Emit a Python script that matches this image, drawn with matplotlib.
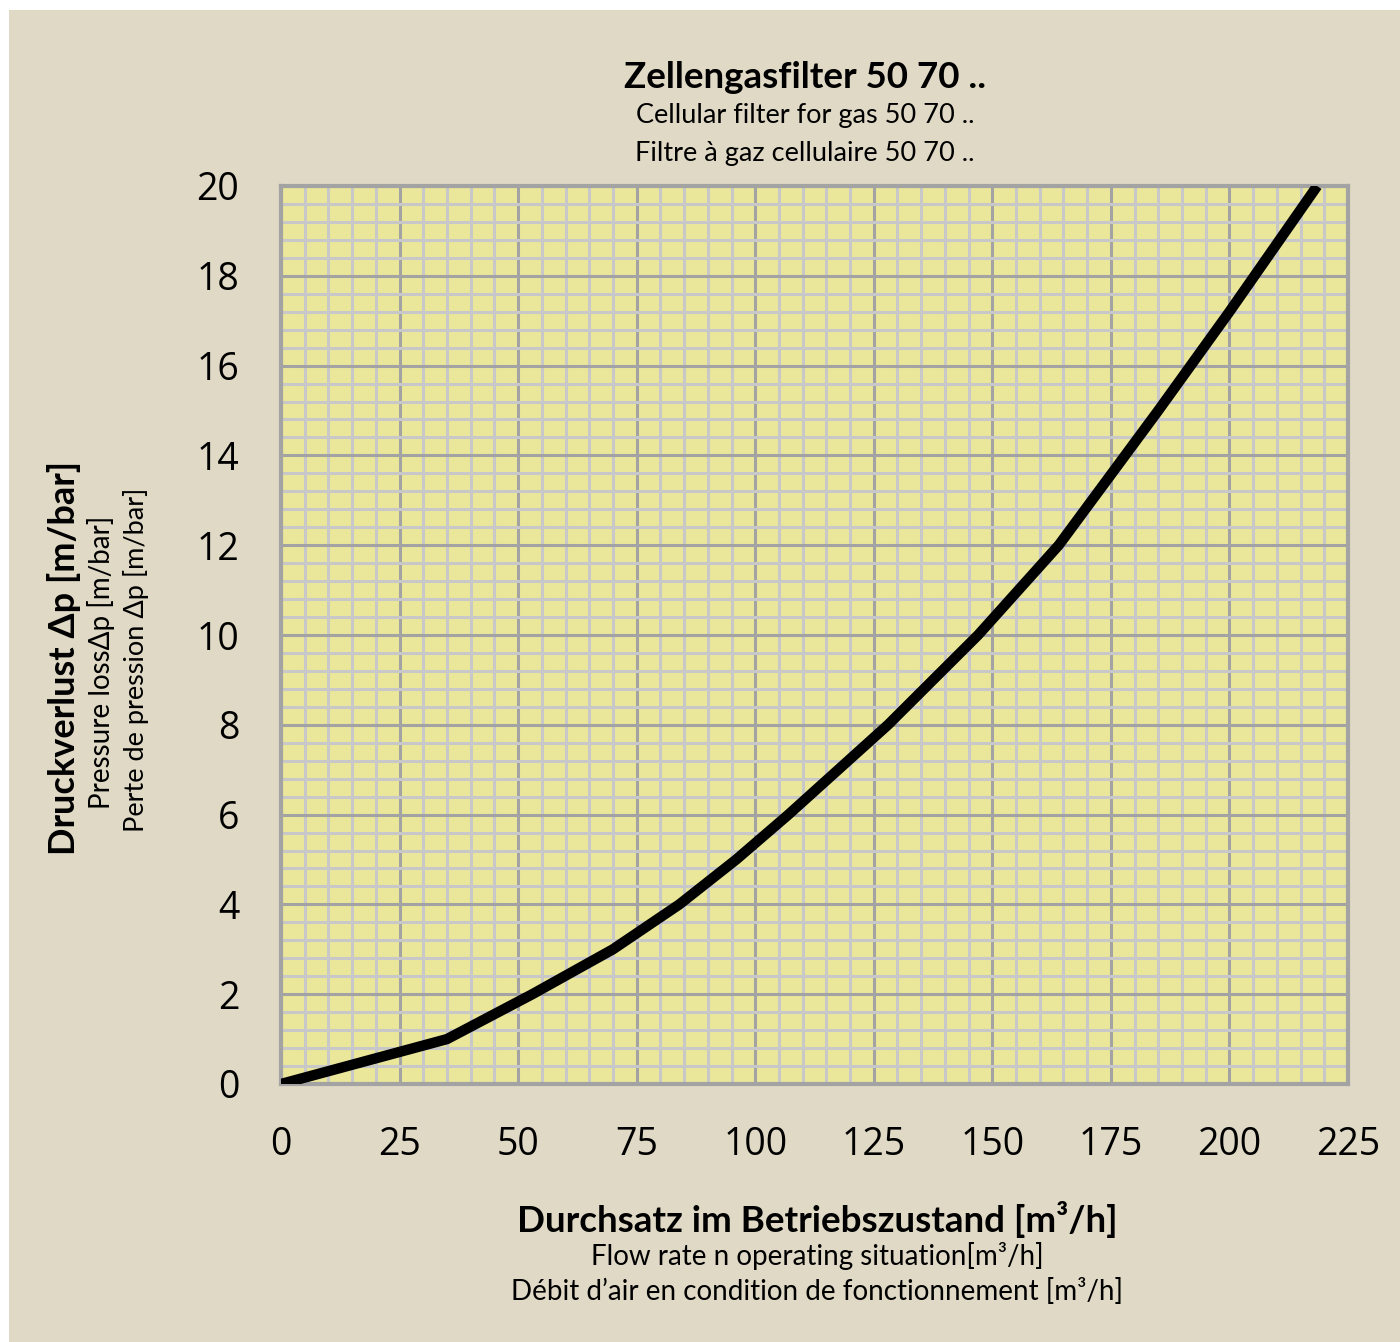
import numpy as np
import matplotlib.pyplot as plt
from matplotlib.patches import Rectangle
from matplotlib.ticker import MultipleLocator

# curve: flow rate [m3/h] vs pressure loss [mbar]
flow = [0, 35, 53, 70, 84, 96, 107, 128, 147, 164, 185, 200, 218.5]
dp = [0, 1, 2, 3, 4, 5, 6, 8, 10, 12, 15, 17.2, 20]

x_ticks = [0, 25, 50, 75, 100, 125, 150, 175, 200, 225]
y_ticks = [0, 2, 4, 6, 8, 10, 12, 14, 16, 18, 20]

title = ["Zellengasfilter 50 70 ..", "Cellular filter for gas 50 70 ..",
         "Filtre à gaz cellulaire 50 70 .."]
xlab = ["Durchsatz im Betriebszustand [m³/h]",
        "Flow rate n operating situation[m³/h]",
        "Débit d’air en condition de fonctionnement [m³/h]"]
ylab = ["Druckverlust Δp [m/bar]", "Pressure lossΔp [m/bar]",
        "Perte de pression Δp [m/bar]"]

BG = "#dfd9c5"
FACE = "#eae79b"
TXT = "Lato"
NUM = "Open Sans"

W, H = 1400, 1342
fig = plt.figure(figsize=(W / 100, H / 100), dpi=100, facecolor="white")
fig.patches.append(Rectangle((9 / W, 0), 1, 1 - 10 / H, transform=fig.transFigure,
                             facecolor=BG, edgecolor="none", zorder=-10))

ax = fig.add_axes([281 / W, 1 - 1084 / H, (1348 - 281) / W, (1084 - 186) / H])
ax.set_facecolor(FACE)
ax.plot(flow, dp, color="black", lw=7.5, solid_capstyle="butt",
        solid_joinstyle="round", zorder=5)

ax.set_xlim(0, 225)
ax.set_ylim(0, 20)
ax.set_xticks(x_ticks)
ax.set_yticks(y_ticks)
ax.xaxis.set_minor_locator(MultipleLocator(5))
ax.yaxis.set_minor_locator(MultipleLocator(0.4))
ax.grid(which="minor", color="#c8c8c8", lw=2.2, zorder=1)
ax.grid(which="major", color="#a3a3a3", lw=2.2, zorder=2)
ax.set_axisbelow(True)
ax.tick_params(which="both", length=0)
ax.tick_params(axis="x", pad=30, labelsize=27)
ax.tick_params(axis="y", pad=30, labelsize=27)
for lab in ax.get_xticklabels() + ax.get_yticklabels():
    lab.set_family(NUM)
for s in ax.spines.values():
    s.set_color("#a3a3a3")
    s.set_linewidth(3)

# title block
fig.text(805 / W, 1 - 78 / H, title[0], ha="center", va="center", fontsize=26.5,
         fontweight="bold", family=TXT)
fig.text(805 / W, 1 - 116 / H, title[1], ha="center", va="center", fontsize=19.5, family=TXT)
fig.text(805 / W, 1 - 153 / H, title[2], ha="center", va="center", fontsize=19.5, family=TXT)

# x label block
fig.text(817 / W, 1 - 1220 / H, xlab[0], ha="center", va="center", fontsize=26.5,
         fontweight="bold", family=TXT)
fig.text(817 / W, 1 - 1256 / H, xlab[1], ha="center", va="center", fontsize=20, family=TXT)
fig.text(817 / W, 1 - 1292 / H, xlab[2], ha="center", va="center", fontsize=20, family=TXT)

# y label block
fig.text(64 / W, 1 - 658 / H, ylab[0], ha="center", va="center", rotation=90,
         fontsize=26, fontweight="bold", family=[TXT, "DejaVu Sans"])
fig.text(101 / W, 1 - 662 / H, ylab[1], ha="center", va="center", rotation=90,
         fontsize=20, family=[TXT, "DejaVu Sans"])
fig.text(136 / W, 1 - 660 / H, ylab[2], ha="center", va="center", rotation=90,
         fontsize=19.5, family=[TXT, "DejaVu Sans"])

fig.savefig("out.png", dpi=100, facecolor="white")
